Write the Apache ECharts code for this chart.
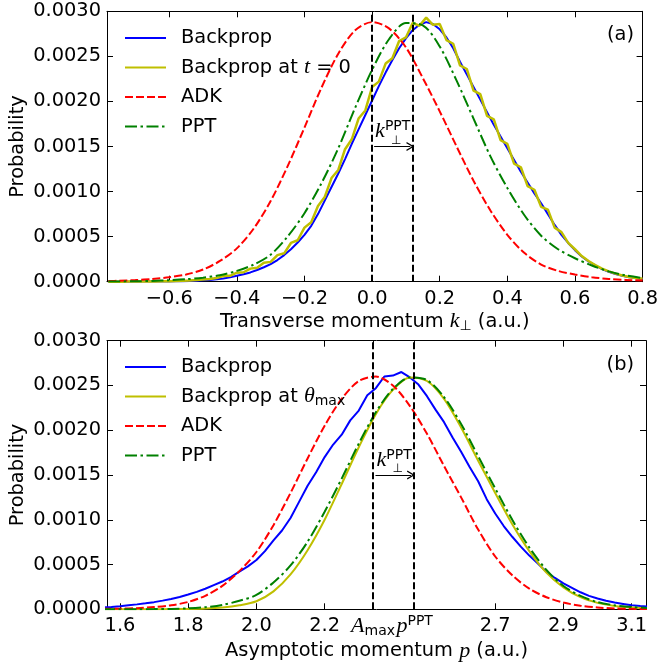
<!DOCTYPE html>
<html><head><meta charset="utf-8">
<script src="https://cdn.jsdelivr.net/npm/echarts@6/dist/echarts.min.js"></script>
<style>html,body{margin:0;padding:0;background:#fff}#c{width:661px;height:670px}</style>
</head><body><div id="c"></div>
<script>
// ---------- data (probability values in units of 1e-4) ----------
const kFine = [-0.78,-0.76,-0.74,-0.72,-0.70,-0.68,-0.66,-0.64,-0.62,-0.60,-0.58,-0.56,-0.54,-0.52,-0.50,-0.48,-0.46,-0.44,-0.42,-0.40,-0.38,-0.36,-0.34,-0.32,-0.30,-0.28,-0.26,-0.24,-0.22,-0.20,-0.18,-0.16,-0.14,-0.12,-0.10,-0.08,-0.06,-0.04,-0.02,
  0,0.02,0.04,0.06,0.08,0.10,0.12,0.14,0.16,0.18,0.20,0.22,0.24,0.26,0.28,0.30,0.32,0.34,0.36,0.38,0.40,0.42,0.44,0.46,0.48,0.50,0.52,0.54,0.56,0.58,0.60,0.62,0.64,0.66,0.68,0.70,0.72,0.74,0.76,0.78,0.80];
const topBackprop = [0,0,0,0,0.01,0.01,0.01,0.02,0.02,0.03,0.04,0.06,0.08,0.11,0.15,0.2,0.27,0.36,0.48,0.65,0.82,1.03,1.3,1.6,1.95,2.4,2.95,3.6,4.35,5.2,6.2,7.5,9.0,10.5,12.0,13.6,15.3,16.9,18.5,
  20.1,21.7,23.2,24.6,25.9,27.0,27.9,28.5,28.8,28.6,28.0,27.1,25.9,24.4,23.0,21.6,20.2,18.8,17.4,16.1,14.8,13.5,12.2,11.0,9.8,8.7,7.5,6.3,5.2,4.3,3.5,2.8,2.25,1.8,1.4,1.1,0.85,0.65,0.5,0.4,0.3];
const topBackpropT0 = [0,0,0,0.01,0.01,0.02,0.02,0.03,0.04,0.05,0.07,0.1,0.13,0.18,0.24,0.3,0.4,0.62,0.65,1.0,1.05,1.45,1.55,2.1,2.2,2.95,3.15,4.3,4.6,6.0,6.6,8.4,9.4,11.5,12.4,14.7,15.8,18.1,19.0,
  21.6,22.2,24.2,24.8,26.7,27.1,28.7,28.4,29.3,28.5,28.6,26.8,26.4,24.0,23.6,21.2,20.8,18.4,18.0,15.7,15.3,13.1,12.7,10.6,10.2,8.3,8.0,6.0,5.5,4.3,3.6,2.85,2.3,1.85,1.45,1.15,0.9,0.68,0.52,0.42,0.32];
const kCoarse = [-0.78,-0.75,-0.7,-0.65,-0.6,-0.55,-0.5,-0.45,-0.4,-0.35,-0.3,-0.25,-0.2,-0.15,-0.1,-0.05,0,0.05,0.1,0.15,0.2,0.25,0.3,0.35,0.4,0.45,0.5,0.55,0.6,0.65,0.7,0.75,0.8];
const topADK = [0.07,0.1,0.18,0.3,0.5,0.8,1.35,2.3,3.7,5.9,8.95,12.8,17.1,21.5,25.3,27.9,28.8,28.1,26.0,22.6,18.9,15.0,11.2,7.9,5.2,3.2,1.9,1.2,0.8,0.5,0.3,0.2,0.12];
const topPPT = [0.02,0.03,0.05,0.09,0.16,0.27,0.45,0.72,1.2,1.9,3.0,5.0,7.6,10.9,14.8,19.3,23.5,26.9,28.7,28.45,26.1,22.3,18.1,13.9,10.4,7.4,5.1,3.6,2.6,1.8,1.15,0.7,0.4];

const pFine = [1.55,1.575,1.6,1.625,1.65,1.675,1.7,1.725,1.75,1.775,1.8,1.825,1.85,1.875,1.9,1.925,1.95,1.975,2.0,2.025,2.05,2.075,2.1,2.125,2.15,2.175,2.2,2.225,2.25,2.275,2.3,2.325,2.35,2.375,2.4,2.425,2.45,2.475,2.5,2.525,2.55,2.575,2.6,2.625,2.65,2.675,2.7,2.725,2.75,2.775,2.8,2.825,2.85,2.875,2.9,2.925,2.95,2.975,3.0,3.025,3.05,3.075,3.1,3.125,3.15];
const botBackprop = [0.2,0.27,0.35,0.45,0.55,0.67,0.8,0.97,1.15,1.38,1.65,1.95,2.3,2.7,3.1,3.6,4.2,4.8,5.5,6.5,7.7,8.8,10.2,12.0,13.8,15.3,17.0,18.4,19.5,21.1,22.2,23.9,24.7,26.0,26.1,26.5,25.9,25.1,23.8,22.3,20.9,19.2,17.6,15.9,14.3,12.3,10.7,9.3,8.1,7.0,6.0,5.1,4.2,3.5,2.9,2.4,1.9,1.5,1.2,0.95,0.75,0.6,0.45,0.37,0.3];
const pCoarse = [1.55,1.6,1.65,1.7,1.75,1.8,1.85,1.9,1.95,2.0,2.05,2.1,2.15,2.2,2.25,2.3,2.35,2.4,2.45,2.5,2.55,2.6,2.65,2.7,2.75,2.8,2.85,2.9,2.95,3.0,3.05,3.1,3.15];
const botBackpropTheta = [0,0,0,0.01,0.02,0.03,0.08,0.2,0.45,0.9,2.0,3.9,6.6,10.0,14.0,18.1,21.8,24.5,25.9,25.5,23.5,20.3,16.6,13.0,9.5,6.5,4.1,2.45,1.35,0.72,0.38,0.2,0.12];
const botADK = [0.05,0.08,0.13,0.25,0.45,0.82,1.51,2.61,4.26,6.4,9.4,13.0,16.85,20.5,23.5,25.5,26.0,25.0,22.7,19.6,16.0,12.5,8.9,5.9,3.8,2.3,1.35,0.75,0.4,0.2,0.1,0.05,0.03];
const botPPT = [0,0,0.01,0.02,0.04,0.1,0.23,0.49,0.95,1.6,3.0,4.9,7.55,10.9,14.6,18.5,22.0,24.6,25.9,25.6,23.7,20.7,17.1,13.5,10.0,6.9,4.4,2.6,1.5,0.8,0.45,0.25,0.15];

const topXTicks = [-0.6,-0.4,-0.2,0,0.2,0.4,0.6,0.8];
const botXTicks = [1.6,1.8,2.0,2.2,2.342,2.464,2.7,2.9,3.1];
const botSpecialLabels = {2.342:'{i|A}{s|max}', 2.464:'{i|p}{u|PPT}'};
const topMarkers = [0, 0.122];
const botMarkers = [2.342, 2.464];
const topArrow = [[0.006, 15], [0.113, 15]];
const botArrow = [[2.349, 15], [2.453, 15]];
const topRange = [-0.784, 0.8];
const botRange = [1.562, 3.142];
const yRange = [0, 30];   // ×1e-4
const yStep = 5;

// ---------- style ----------
const FONT = 'DejaVu Sans';
const SERIF = 'Liberation Serif';
const FS = 19.4;
const BLACK = '#000';
const rich = {
  n: {fontFamily: FONT, fontSize: FS, color: BLACK, lineHeight: 24},
  i: {fontFamily: SERIF, fontStyle: 'italic', fontSize: 22, color: BLACK, lineHeight: 24},
  s: {fontFamily: FONT, fontSize: 14, color: BLACK, verticalAlign: 'bottom', lineHeight: 14},
  u: {fontFamily: FONT, fontSize: 14, color: BLACK, verticalAlign: 'top', lineHeight: 14}
};

const pair = (xs, ys) => xs.map((x, i) => [x, ys[i]]);
const fmtTop = v => (v < 0 ? '\u2212' + Math.abs(v).toFixed(1) : v.toFixed(1));
const fmtBot = v => botSpecialLabels[v] || v.toFixed(1);

function xAx(grid, pos, range, ticks, fmt, name, gap) {
  return {
    type: 'value', gridIndex: grid, position: pos, min: range[0], max: range[1],
    axisLine: {show: true, onZero: false, lineStyle: {color: BLACK, width: 1}},
    axisTick: {show: true, inside: true, length: 6, customValues: ticks, lineStyle: {color: BLACK}},
    axisLabel: {show: pos === 'bottom', customValues: ticks, formatter: fmt, margin: 5,
      fontFamily: FONT, fontSize: FS, color: BLACK, lineHeight: 24, rich: rich},
    splitLine: {show: false},
    name: pos === 'bottom' ? name : '', nameLocation: 'middle', nameGap: gap || 28,
    nameMoveOverlap: false,
    nameTextStyle: {fontFamily: FONT, fontSize: FS, color: BLACK, lineHeight: 24, rich: rich}
  };
}
function yAx(grid, pos) {
  return {
    type: 'value', gridIndex: grid, position: pos, min: yRange[0], max: yRange[1], interval: yStep,
    axisLine: {show: true, onZero: false, lineStyle: {color: BLACK, width: 1}},
    axisTick: {show: true, inside: true, length: 6, lineStyle: {color: BLACK}},
    axisLabel: {show: pos === 'left', margin: 6, formatter: v => (v / 1e4).toFixed(4),
      fontFamily: FONT, fontSize: FS, color: BLACK},
    splitLine: {show: false},
    name: pos === 'left' ? 'Probability' : '', nameLocation: 'middle', nameGap: 80,
    nameMoveOverlap: false,
    nameTextStyle: {fontFamily: FONT, fontSize: FS, color: BLACK}
  };
}

function line(name, xi, yi, data, color, width, type, smooth) {
  return {
    type: 'line', name: name, xAxisIndex: xi, yAxisIndex: yi, data: data,
    symbol: 'none', showSymbol: false, smooth: smooth, animation: false,
    lineStyle: {color: color, width: width, type: type}, itemStyle: {color: color}
  };
}
const DASH = [8, 3];
const DASHDOT = [12, 3.5, 2.5, 3.5];
const arrowPath = 'path://M0,10 L5,0 L10,10 L8.6,10.6 L5,3.2 L1.4,10.6 Z';

function markers(xs, arrow) {
  return {
    silent: true, symbol: ['none', 'none'], animation: false,
    label: {show: false},
    lineStyle: {color: BLACK, width: 2, type: [7, 3]},
    data: xs.map(x => ({xAxis: x})).concat([[
      {coord: arrow[0], symbol: 'none', lineStyle: {type: 'solid', width: 1.2, color: BLACK}},
      {coord: arrow[1], symbol: arrowPath, symbolSize: [9, 8]}
    ]])
  };
}
function kLabel(arrow) {
  return {
    silent: true, animation: false, symbol: 'circle', symbolSize: 0,
    data: [
      {coord: arrow[0], label: {show: true, formatter: '{i|k}{u|PPT}', align: 'left', verticalAlign: 'bottom', offset: [1, -3], rich: rich}},
      {coord: arrow[0], label: {show: true, formatter: '\u22A5', align: 'left', verticalAlign: 'bottom', offset: [17, 0], fontFamily: FONT, fontSize: 12, color: BLACK}}
    ]
  };
}

const legendBase = {
  orient: 'vertical', left: 124, padding: 0, itemWidth: 41, itemHeight: 14, itemGap: 5.5,
  selectedMode: false,
  itemStyle: {opacity: 0},
  textStyle: {fontFamily: FONT, fontSize: FS, color: BLACK, lineHeight: 24, padding: [0, 0, 0, 10], rich: rich}
};

const topPPTSeries = line('PPT', 0, 0, pair(kCoarse, topPPT), '#008000', 2, DASHDOT, 0.3);
topPPTSeries.markLine = markers(topMarkers, topArrow);
topPPTSeries.markPoint = kLabel(topArrow);
const botPPTSeries = line('PPT', 2, 2, pair(pCoarse, botPPT), '#008000', 2, DASHDOT, 0.3);
botPPTSeries.markLine = markers(botMarkers, botArrow);
botPPTSeries.markPoint = kLabel(botArrow);

const option = {
  backgroundColor: '#fff',
  animation: false,
  grid: [
    {left: 106, top: 11.3, width: 540, height: 270.4},
    {left: 106, top: 340.7, width: 540, height: 268.6}
  ],
  xAxis: [
    xAx(0, 'bottom', topRange, topXTicks, fmtTop, 'Transverse momentum {i|k}{s|\u22A5} (a.u.)', 28),
    xAx(0, 'top', topRange, topXTicks, fmtTop, ''),
    xAx(1, 'bottom', botRange, botXTicks, fmtBot, 'Asymptotic momentum {i|p} (a.u.)', 30),
    xAx(1, 'top', botRange, botXTicks, fmtBot, '')
  ],
  yAxis: [yAx(0, 'left'), yAx(0, 'right'), yAx(1, 'left'), yAx(1, 'right')],
  title: [
    {text: '(a)', right: 27, top: 25, padding: 0, textStyle: {fontFamily: FONT, fontSize: FS, fontWeight: 'normal', color: BLACK}},
    {text: '(b)', right: 27, top: 355, padding: 0, textStyle: {fontFamily: FONT, fontSize: FS, fontWeight: 'normal', color: BLACK}}
  ],
  legend: [
    Object.assign({}, legendBase, {top: 26, data: ['Backprop', 'Backprop at t = 0', 'ADK', 'PPT'],
      formatter: n => n === 'Backprop at t = 0' ? '{n|Backprop at }{i|t}{n| = 0}' : n}),
    Object.assign({}, legendBase, {top: 355, data: ['Backprop', 'Backprop at \u03B8max', 'ADK', 'PPT'],
      formatter: n => n === 'Backprop at \u03B8max' ? '{n|Backprop at }{i|\u03B8}{s|max}' : n})
  ],
  series: [
    line('Backprop', 0, 0, pair(kFine, topBackprop), '#0000ff', 2, 'solid', false),
    line('Backprop at t = 0', 0, 0, pair(kFine, topBackpropT0), '#bfbf00', 2.5, 'solid', false),
    line('ADK', 0, 0, pair(kCoarse, topADK), '#ff0000', 2, DASH, 0.3),
    topPPTSeries,
    line('Backprop', 2, 2, pair(pFine, botBackprop), '#0000ff', 2, 'solid', false),
    line('Backprop at \u03B8max', 2, 2, pair(pCoarse, botBackpropTheta), '#bfbf00', 2, 'solid', 0.3),
    line('ADK', 2, 2, pair(pCoarse, botADK), '#ff0000', 2, DASH, 0.3),
    botPPTSeries
  ]
};
const chart = echarts.init(document.getElementById('c'), null, {renderer: 'canvas'});
chart.setOption(option);
</script>
</body></html>
